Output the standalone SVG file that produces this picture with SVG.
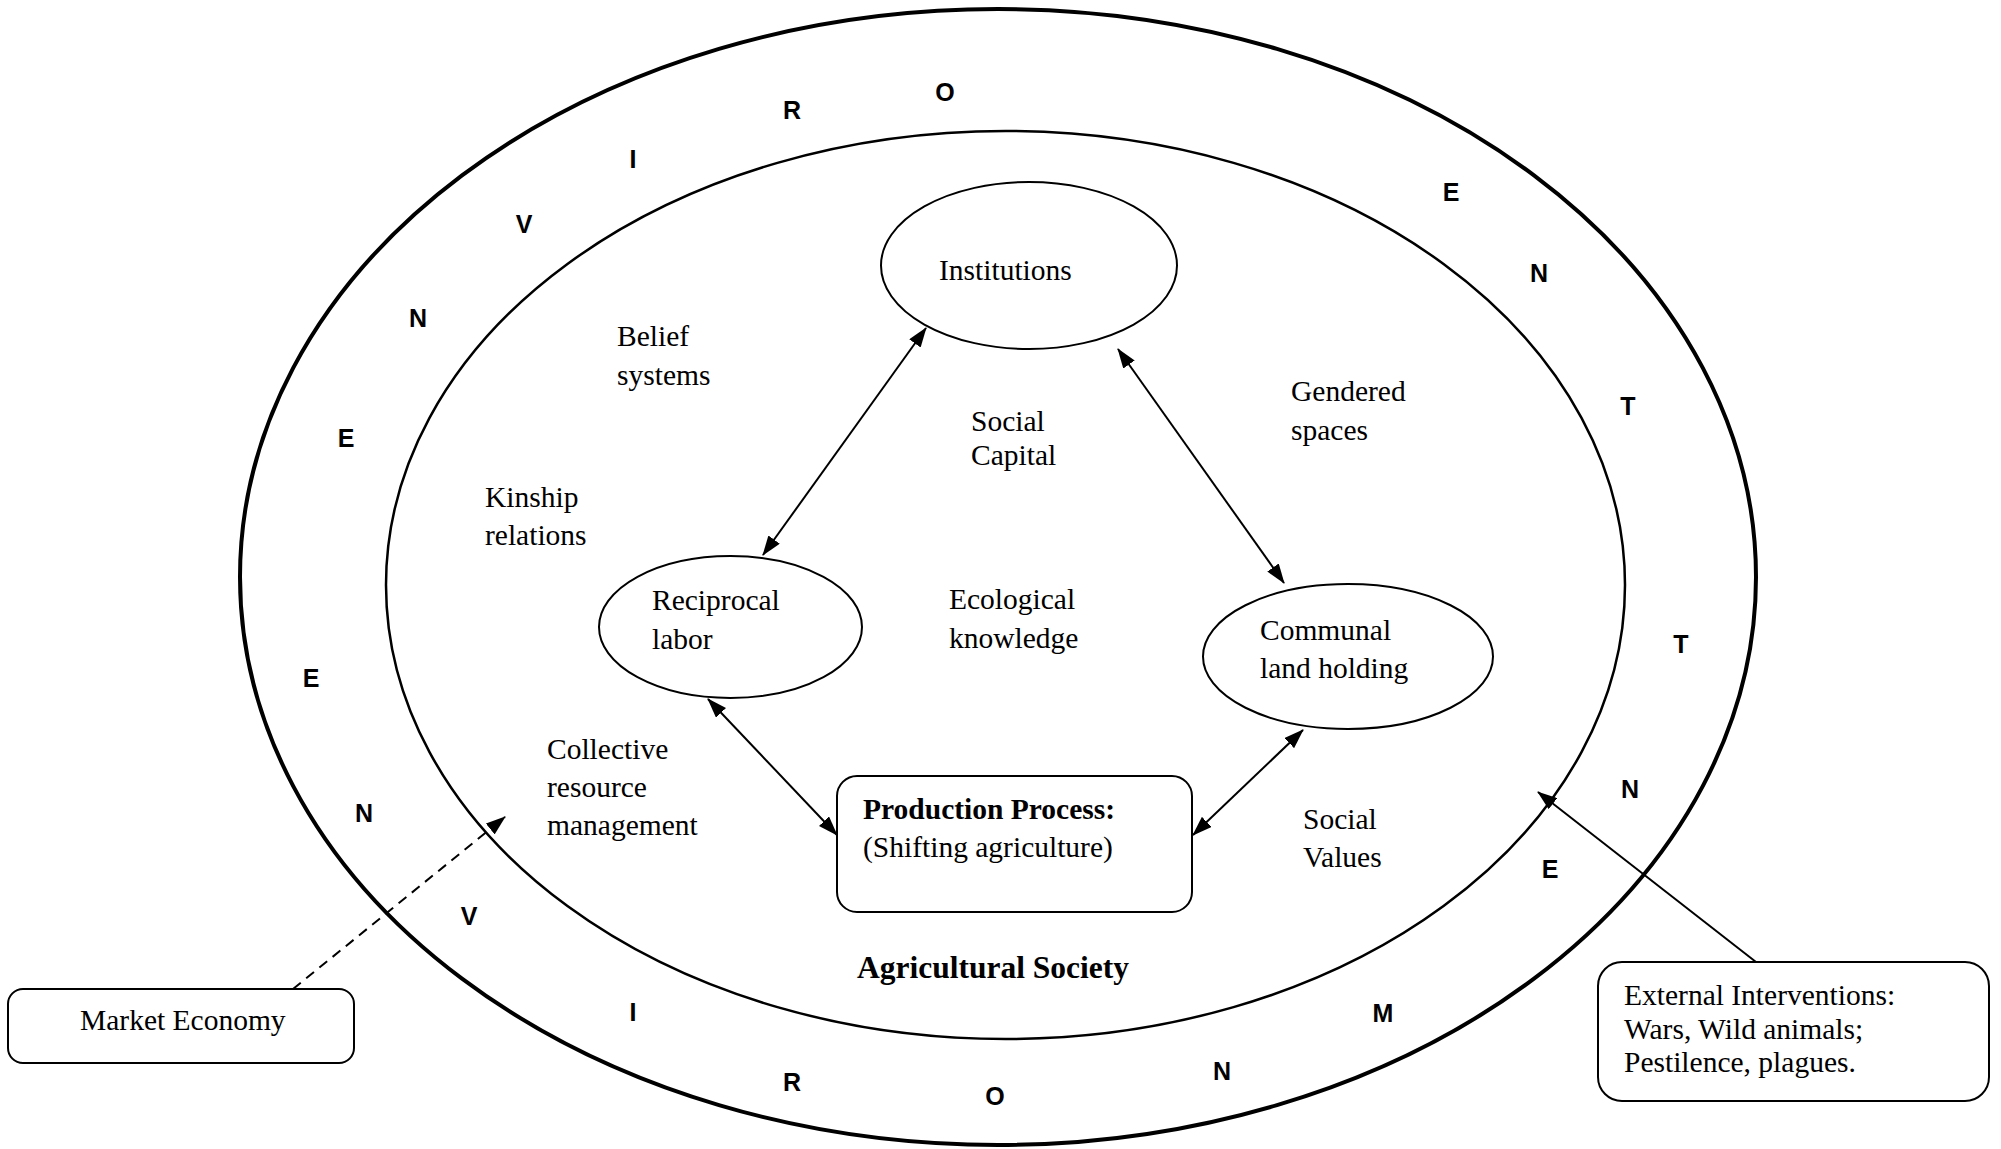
<svg xmlns="http://www.w3.org/2000/svg" width="2001" height="1149" viewBox="0 0 2001 1149">
<style>
.t{font-family:"Liberation Serif","Times New Roman",serif;font-size:29.5px;fill:#000}
.b{font-weight:bold}
.env{font-family:"Liberation Sans",Arial,sans-serif;font-size:25px;font-weight:bold;fill:#000;text-anchor:middle}
.node{fill:#fff;stroke:#000;stroke-width:2}
.con{fill:none;stroke:#000;stroke-width:2}
</style>
<defs>
<marker id="ah" viewBox="0 0 20 14" refX="19" refY="7" markerWidth="20" markerHeight="14" markerUnits="userSpaceOnUse" orient="auto-start-reverse">
<path d="M0,0 L20,7 L0,14 Z" fill="#000"/>
</marker>
</defs>
<rect width="2001" height="1149" fill="#fff"/>
<g id="environment">
<ellipse cx="998" cy="577" rx="758" ry="568" fill="none" stroke="#000" stroke-width="4"/>
<text class="env" x="945" y="101">O</text>
<text class="env" x="792" y="119">R</text>
<text class="env" x="633" y="168">I</text>
<text class="env" x="524" y="233">V</text>
<text class="env" x="418" y="327">N</text>
<text class="env" x="346" y="447">E</text>
<text class="env" x="1451" y="201">E</text>
<text class="env" x="1539" y="282">N</text>
<text class="env" x="1628" y="415">T</text>
<text class="env" x="1681" y="653">T</text>
<text class="env" x="1630" y="798">N</text>
<text class="env" x="1550" y="878">E</text>
<text class="env" x="1383" y="1022">M</text>
<text class="env" x="1222" y="1080">N</text>
<text class="env" x="995" y="1105">O</text>
<text class="env" x="792" y="1091">R</text>
<text class="env" x="633" y="1021">I</text>
<text class="env" x="469" y="925">V</text>
<text class="env" x="364" y="822">N</text>
<text class="env" x="311" y="687">E</text>
</g>
<g id="agricultural-society">
<ellipse cx="1005.5" cy="585" rx="619.5" ry="454" fill="none" stroke="#000" stroke-width="2.5"/>
<text class="t b" x="857" y="978" style="font-size:31.5px">Agricultural Society</text>
</g>
<g id="labels">
<text class="t" x="617" y="346">Belief</text>
<text class="t" x="617" y="385">systems</text>
<text class="t" x="971" y="431">Social</text>
<text class="t" x="971" y="465">Capital</text>
<text class="t" x="485" y="507">Kinship</text>
<text class="t" x="485" y="545">relations</text>
<text class="t" x="1291" y="401">Gendered</text>
<text class="t" x="1291" y="440">spaces</text>
<text class="t" x="949" y="609">Ecological</text>
<text class="t" x="949" y="648">knowledge</text>
<text class="t" x="547" y="759">Collective</text>
<text class="t" x="547" y="797">resource</text>
<text class="t" x="547" y="835">management</text>
<text class="t" x="1303" y="829">Social</text>
<text class="t" x="1303" y="867">Values</text>
</g>
<g id="connectors">
<line class="con" x1="926" y1="328" x2="763" y2="555" marker-start="url(#ah)" marker-end="url(#ah)"/>
<line class="con" x1="1118" y1="349" x2="1284" y2="583" marker-start="url(#ah)" marker-end="url(#ah)"/>
<line class="con" x1="708" y1="699" x2="837" y2="835" marker-start="url(#ah)" marker-end="url(#ah)"/>
<line class="con" x1="1303" y1="730" x2="1193" y2="835" marker-start="url(#ah)" marker-end="url(#ah)"/>
<line class="con" x1="293" y1="989" x2="505" y2="817" stroke-dasharray="10,7" marker-end="url(#ah)"/>
<line class="con" x1="1756" y1="962" x2="1538" y2="792" marker-end="url(#ah)"/>
</g>
<g id="institutions">
<ellipse class="node" cx="1029" cy="265.5" rx="148" ry="83.5"/>
<text class="t" x="939" y="280">Institutions</text>
</g>
<g id="reciprocal-labor">
<ellipse class="node" cx="730.5" cy="627" rx="131.5" ry="71"/>
<text class="t" x="652" y="610">Reciprocal</text>
<text class="t" x="652" y="649">labor</text>
</g>
<g id="communal-land-holding">
<ellipse class="node" cx="1348" cy="656.5" rx="145" ry="72.5"/>
<text class="t" x="1260" y="640">Communal</text>
<text class="t" x="1260" y="678">land holding</text>
</g>
<g id="production-process">
<rect class="node" x="837" y="776" width="355" height="136" rx="20"/>
<text class="t b" x="863" y="819">Production Process:</text>
<text class="t" x="863" y="857">(Shifting agriculture)</text>
</g>
<g id="market-economy">
<rect class="node" x="8" y="989" width="346" height="74" rx="15"/>
<text class="t" x="80" y="1030">Market Economy</text>
</g>
<g id="external-interventions">
<rect class="node" x="1598" y="962" width="391" height="139" rx="24"/>
<text class="t" x="1624" y="1005">External Interventions:</text>
<text class="t" x="1624" y="1039">Wars, Wild animals;</text>
<text class="t" x="1624" y="1072">Pestilence, plagues.</text>
</g>
</svg>
